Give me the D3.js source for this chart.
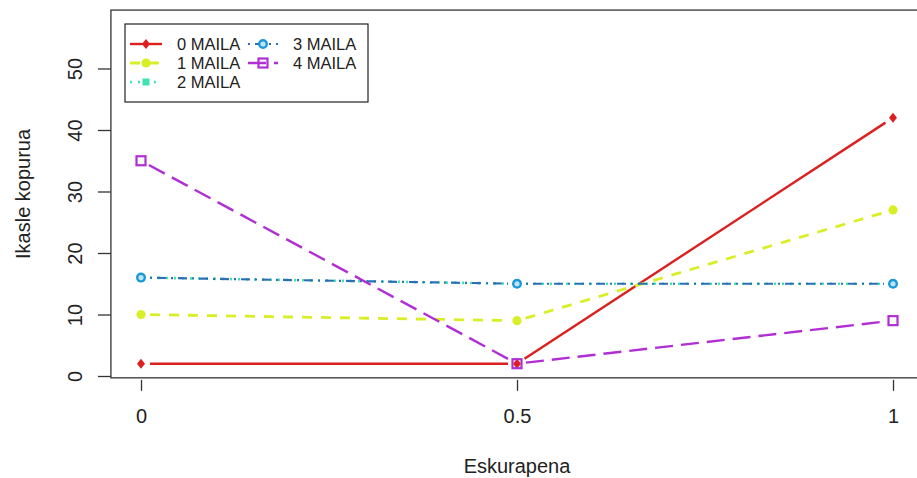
<!DOCTYPE html>
<html>
<head>
<meta charset="utf-8">
<script src="https://cdn.jsdelivr.net/npm/d3@7"></script>
<style>
  html, body { margin: 0; padding: 0; background: #fff; }
  svg { display: block; font-family: "Liberation Sans", Arial, sans-serif; }
</style>
</head>
<body>
<svg id="chart" width="917" height="478"></svg>
<script>
// Eskurapena (x) and ikasle kopurua per maila
const xValues = [0, 0.5, 1];
const xTickLabels = ["0", "0.5", "1"];
const yTicks = [0, 10, 20, 30, 40, 50];
const seriesNames = ["0 MAILA", "1 MAILA", "2 MAILA", "3 MAILA", "4 MAILA"];
const maila0 = [2, 2, 42];
const maila1 = [10, 9, 27];
const maila2 = [16, 15, 15];
const maila3 = [16, 15, 15];
const maila4 = [35, 2, 9];

const seriesValues = [maila0, maila1, maila2, maila3, maila4];

// Drawing styles per series: line colour, dash, marker
const styles = [
  { color: "#dc1f1f", dash: null, width: 2.4, marker: "diamond" },
  { color: "#d8ef28", dash: "10,9", width: 2.8, marker: "dot" },
  { color: "#3ee2b0", dash: "2,6", width: 2.6, marker: "square" },
  { color: "#2a6fb8", dash: "2,5,9,5", width: 2.2, marker: "ring", markerColor: "#1b98d8" },
  { color: "#b02ed2", dash: "18,8", width: 2.4, marker: "openSquare" }
];

const svg = d3.select("#chart");

const x = d3.scaleLinear().domain([0, 1]).range([141, 893]);
const y = d3.scaleLinear().domain([0, 50]).range([376, 68.5]);

// Plot frame (extends slightly beyond the data range, like base graphics)
const boxL = x(-0.04), boxR = x(1.04), boxT = y(59.5), boxB = y(-0.3);
svg.append("rect")
  .attr("x", boxL).attr("y", boxT)
  .attr("width", boxR - boxL).attr("height", boxB - boxT)
  .attr("fill", "none").attr("stroke", "#333").attr("stroke-width", 1.3);

// Y axis
const yAxis = svg.append("g")
  .attr("transform", `translate(${boxL},0)`)
  .call(d3.axisLeft(y).tickValues(yTicks).tickSize(13).tickSizeOuter(0));
yAxis.select(".domain").remove();
yAxis.selectAll(".tick line").attr("stroke", "#333").attr("stroke-width", 1.3);
yAxis.selectAll(".tick text")
  .attr("x", 0).attr("y", -29).attr("dy", 0)
  .attr("transform", "rotate(-90)")
  .attr("text-anchor", "middle")
  .attr("fill", "#222")
  .style("font-size", "20px")
  .style("font-family", "'Liberation Sans', Arial, sans-serif");

// X axis (ticks only, below the frame)
const xAxis = svg.append("g")
  .attr("transform", `translate(0,${boxB + 2})`)
  .call(d3.axisBottom(x).tickValues(xValues).tickFormat((d, i) => xTickLabels[i]).tickSize(11).tickSizeOuter(0));
xAxis.select(".domain").remove();
xAxis.selectAll(".tick line").attr("stroke", "#333").attr("stroke-width", 1.3);
xAxis.selectAll(".tick text")
  .attr("y", 43).attr("dy", 0)
  .attr("fill", "#222")
  .style("font-size", "20px")
  .style("font-family", "'Liberation Sans', Arial, sans-serif");

// Axis titles
svg.append("text")
  .attr("x", (x(0) + x(1)) / 2).attr("y", 473)
  .attr("text-anchor", "middle").attr("fill", "#222")
  .style("font-size", "20px")
  .text("Eskurapena");
svg.append("text")
  .attr("transform", `translate(30,${(boxT + boxB) / 2}) rotate(-90)`)
  .attr("text-anchor", "middle").attr("fill", "#222")
  .style("font-size", "20px")
  .text("Ikasle kopurua");

// Marker drawing
function drawMarker(g, kind, cx, cy, st) {
  const c = st.markerColor || st.color;
  if (kind === "diamond") {
    g.append("path")
      .attr("d", `M${cx},${cy - 5}L${cx + 4},${cy}L${cx},${cy + 5}L${cx - 4},${cy}Z`)
      .attr("fill", c);
  } else if (kind === "dot") {
    g.append("circle").attr("cx", cx).attr("cy", cy).attr("r", 4.6).attr("fill", c);
  } else if (kind === "square") {
    g.append("rect").attr("x", cx - 3.5).attr("y", cy - 3.5).attr("width", 7).attr("height", 7).attr("fill", c);
  } else if (kind === "ring") {
    g.append("circle").attr("cx", cx).attr("cy", cy).attr("r", 3.8)
      .attr("fill", "#bfe4f4").attr("stroke", c).attr("stroke-width", 2.4);
  } else if (kind === "openSquare") {
    g.append("rect").attr("x", cx - 4.5).attr("y", cy - 4.5).attr("width", 9).attr("height", 9)
      .attr("fill", "none").attr("stroke", c).attr("stroke-width", 2.2);
  }
}

// Series: segments with gaps around the points, then the points
const gap = 9;
const plot = svg.append("g");
seriesValues.forEach((vals, si) => {
  const st = styles[si];
  const g = plot.append("g");
  for (let i = 0; i < vals.length - 1; i++) {
    const x1 = x(xValues[i]), y1 = y(vals[i]);
    const x2 = x(xValues[i + 1]), y2 = y(vals[i + 1]);
    const len = Math.hypot(x2 - x1, y2 - y1);
    if (len <= 2 * gap) continue;
    const ux = (x2 - x1) / len, uy = (y2 - y1) / len;
    g.append("line")
      .attr("x1", x1 + ux * gap).attr("y1", y1 + uy * gap)
      .attr("x2", x2 - ux * gap).attr("y2", y2 - uy * gap)
      .attr("stroke", st.color).attr("stroke-width", st.width)
      .attr("stroke-dasharray", st.dash);
  }
  vals.forEach((v, i) => drawMarker(g, st.marker, x(xValues[i]), y(v), st));
});

// Legend
const legend = svg.append("g");
legend.append("rect")
  .attr("x", 125).attr("y", 24).attr("width", 243).attr("height", 78)
  .attr("fill", "#fff").attr("stroke", "#222").attr("stroke-width", 1.2);
const legendCols = [{ x1: 130, x2: 162, tx: 177 }, { x1: 248, x2: 278, tx: 293 }];
const legendRows = [44, 63, 82];
seriesNames.forEach((name, si) => {
  const col = legendCols[si < 3 ? 0 : 1];
  const ry = legendRows[si < 3 ? si : si - 3];
  const st = styles[si];
  legend.append("line")
    .attr("x1", col.x1).attr("x2", col.x2).attr("y1", ry).attr("y2", ry)
    .attr("stroke", st.color).attr("stroke-width", st.width)
    .attr("stroke-dasharray", st.dash);
  drawMarker(legend, st.marker, (col.x1 + col.x2) / 2, ry, st);
  legend.append("text")
    .attr("x", col.tx).attr("y", ry + 6)
    .attr("fill", "#222")
    .style("font-size", "16.5px")
    .text(name);
});
</script>
</body>
</html>
